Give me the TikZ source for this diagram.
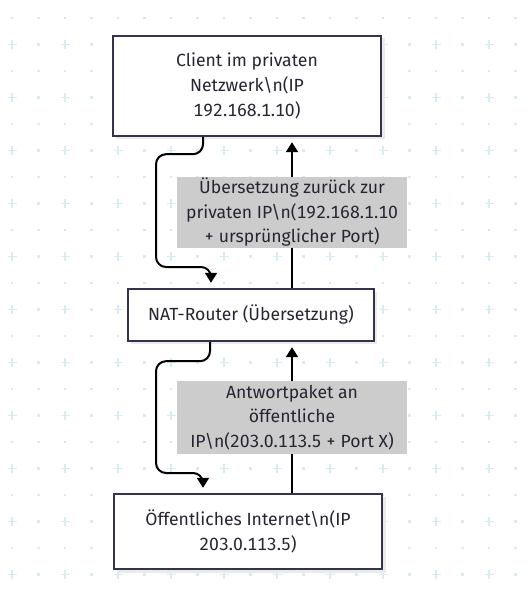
\documentclass[tikz,border=0pt]{standalone}
\usepackage{fontspec}
\setmainfont{Fira Sans}[Numbers=Monospaced]
\usetikzlibrary{arrows.meta}
\definecolor{gridc}{HTML}{D6EEF2}
\definecolor{boxline}{HTML}{33334D}
\definecolor{txt}{HTML}{262633}
\definecolor{labfill}{HTML}{CCCCCC}
\tikzset{
  box/.style={draw=boxline, line width=2.4pt, fill=white, inner sep=0pt, align=center,
    text=txt, font=\fontsize{17.6}{25}\selectfont},
  lab/.style={fill=labfill, inner sep=0pt, align=center, text=txt,
    font=\fontsize{17.6}{24.5}\selectfont, minimum width=230pt},
  conn/.style={draw=black, line width=2pt, rounded corners=10pt,
    -{Triangle[width=12pt,length=10pt]}, shorten >=5pt},
  gdot/.style={fill=gridc},
  gplus/.style={draw=gridc, line width=1.6pt}
}
\begin{document}
\begin{tikzpicture}[x=1pt,y=-1pt]
\useasboundingbox (0,0) rectangle (531,593);
\fill[white] (0,0) rectangle (531,593);
% background grid
\foreach \i in {0,...,19}{
  \foreach \j in {0,2,...,20}{
    \fill[gdot] ({12+26.5*\i-1.3},{18+26.5*\j-1.3}) rectangle ++(2.6,2.6);
  }
}
\foreach \i in {1,3,...,19}{
  \foreach \j in {1,3,...,21}{
    \fill[gdot] ({12+26.5*\i-1.3},{18+26.5*\j-1.3}) rectangle ++(2.6,2.6);
  }
}
\foreach \i in {0,2,...,18}{
  \foreach \j in {1,3,...,21}{
    \draw[gplus] ({12+26.5*\i-4.5},{18+26.5*\j}) -- ++(9,0);
    \draw[gplus] ({12+26.5*\i},{18+26.5*\j-4.5}) -- ++(0,9);
  }
}
% shadows
\fill[black!8] (116,38) rectangle (385,139);
\fill[black!8] (131,292) rectangle (377,344);
\fill[black!8] (117,497) rectangle (386,573);
% boxes
\node[box, minimum width=268pt, minimum height=100pt] (c1) at (247,86)
  {Client im privaten\\Netzwerk\textbackslash n(IP\\192.168.1.10)};
\node[box, minimum width=246pt, minimum height=52pt] (nat) at (251,315)
  {NAT-Router (Übersetzung)};
\node[box, minimum width=268pt, minimum height=75pt] (inet) at (248,531.5)
  {Öffentliches Internet\textbackslash n(IP\\203.0.113.5)};
% connectors
\draw[conn] ([xshift=-44pt]c1.south) -- ++(0,17) -| (156,267) -| ([xshift=-40pt]nat.north);
\draw[conn] ([xshift=-41pt]nat.south) -- ++(0,19) -| (156,473) -| ([xshift=-45pt]inet.north);
\draw[conn] ([xshift=41pt]nat.north) -- ([xshift=45pt]c1.south);
\draw[conn] ([xshift=44pt]inet.north) -- ([xshift=41pt]nat.south);
% labels
\node[lab, minimum height=71pt] (l1) at (292,212.5)
  {Übersetzung zurück zur\\privaten IP\textbackslash n(192.168.1.10\\+ ursprünglicher Port)};
\node[lab, minimum height=73pt] (l2) at (292,417.5)
  {Antwortpaket an\\öffentliche\\IP\textbackslash n(203.0.113.5 + Port X)};
\end{tikzpicture}
\end{document}
